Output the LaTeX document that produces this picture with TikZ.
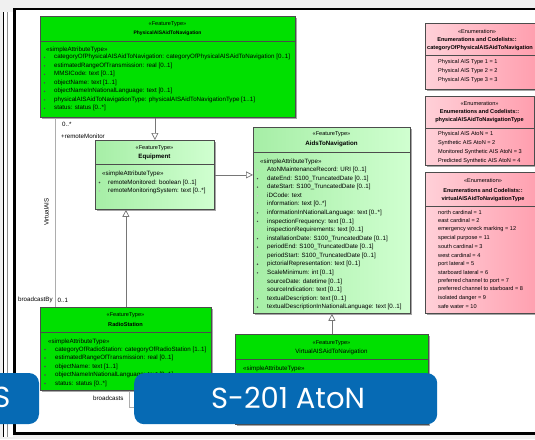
\documentclass[tikz,border=0pt]{standalone}
\usepackage{fontspec}
\setmainfont{Liberation Sans}
\newfontfamily\bannerfont{Poppins}
\usetikzlibrary{arrows.meta,shadows,positioning}

\definecolor{aisgreen}{RGB}{0,224,0}
\definecolor{paleL}{RGB}{166,238,166}
\definecolor{paleR}{RGB}{208,255,208}
\definecolor{pinkL}{RGB}{255,208,216}
\definecolor{pinkR}{RGB}{255,158,174}
\definecolor{bannerblue}{RGB}{6,106,180}
\definecolor{linegray}{RGB}{118,118,118}
\definecolor{pagegray}{RGB}{240,240,240}

\tikzset{
  umlbox/.style={draw=black!70, line width=0.8pt, anchor=north west, inner sep=0pt,
    drop shadow={shadow xshift=1.5pt, shadow yshift=-1.5pt, opacity=0.35, fill=black}},
  featbox/.style={umlbox, fill=aisgreen},
  basebox/.style={umlbox, left color=paleL, right color=paleR},
  enumbox/.style={umlbox, left color=pinkL, right color=pinkR},
  umltext/.style={font=\fontsize{6.2}{7}\selectfont, inner sep=0pt},
  umlattr/.style={umltext, anchor=west},
  umlstereo/.style={umltext, anchor=center, font=\fontsize{5.6}{6}\selectfont},
  umlname/.style={umltext, anchor=center, font=\fontsize{5.6}{6}\selectfont\bfseries},
  enumattr/.style={umltext, anchor=west, font=\fontsize{5.6}{6}\selectfont},
  umlsep/.style={draw=black!70, line width=0.8pt},
  gen/.style={draw=linegray, line width=0.7pt, -{Triangle[width=7pt,length=7pt,fill=white]}},
  assoc/.style={draw=linegray!60, line width=0.6pt},
  bannerbox/.style={fill=bannerblue, rounded corners=10pt}
}

\begin{document}
\begin{tikzpicture}[x=1pt,y=-1pt]
\useasboundingbox (0,0) rectangle (535,439);

% page, neighbour slide and frame
\fill[pagegray] (0,0) rectangle (535,439);
\fill[white] (4,12) rectangle (13,437);
\draw[line width=0.8pt] (3.5,12) -- (3.5,437);
\draw[black!45, line width=0.5pt] (7,12) -- (7,437);
\draw[fill=white, line width=2.4pt] (14.5,9) rectangle (560,433.5);

% classes
\node[featbox, minimum width=255pt, minimum height=101pt] (phys) at (40,16) {};
\draw[umlsep] (phys.west |- 0,41) -- (phys.east |- 0,41);
\node[umlstereo] at (167.5,24) {«FeatureType»};
\node[umlname, font=\fontsize{5}{6}\selectfont\bfseries] at (167.5,33) {PhysicalAISAidToNavigation};
\node[umlattr] at (46,50) {«simpleAttributeType»};
\foreach \t [count=\i from 0] in {
  {categoryOfPhysicalAISAidToNavigation: categoryOfPhysicalAISAidToNavigation [0..1]},
  {estimatedRangeOfTransmission: real [0..1]},
  {MMSICode: text [0..1]},
  {objectName: text [1..1]},
  {objectNameInNationalLanguage: text [0..1]},
  {physicalAISAidToNavigationType: physicalAISAidToNavigationType [1..1]},
  {status: status [0..*]}} {
  \fill[black!70] (44.5,{57.3+8.5*\i}) circle (0.8pt);
  \node[umlattr] at (54,{57.3+8.5*\i}) {\t};
}

\node[basebox, minimum width=119pt, minimum height=69pt] (equip) at (95,140) {};
\draw[umlsep] (equip.west |- 0,164) -- (equip.east |- 0,164);
\node[umlstereo] at (154.5,148) {«FeatureType»};
\node[umlname, font=\fontsize{6.2}{7}\selectfont\bfseries] at (154.5,157) {Equipment};
\node[umlattr] at (102,174) {«simpleAttributeType»};
\fill[black!70] (99.5,182.5) circle (0.8pt);
\fill[black!25] (99.5,191) circle (0.8pt);
\node[umlattr] at (108,182.5) {remoteMonitored: boolean [0..1]};
\node[umlattr] at (108,191) {remoteMonitoringSystem: text [0..*]};

\node[basebox, minimum width=157pt, minimum height=186pt] (aton) at (253,127) {};
\draw[umlsep] (aton.west |- 0,152) -- (aton.east |- 0,152);
\node[umlstereo] at (331.5,134.5) {«FeatureType»};
\node[umlname, font=\fontsize{6.2}{7}\selectfont\bfseries] at (331.5,143.5) {AidsToNavigation};
\node[umlattr] at (260,161.7) {«simpleAttributeType»};
\foreach \c/\t [count=\i from 0] in {
  black!20/{AtoNMaintenanceRecord: URI [0..1]},
  black!70/{dateEnd: S100\_TruncatedDate [0..1]},
  black!70/{dateStart: S100\_TruncatedDate [0..1]},
  black!20/{iDCode: text},
  black!20/{information: text [0..*]},
  black!70/{informationInNationalLanguage: text [0..*]},
  black!70/{inspectionFrequency: text [0..1]},
  black!20/{inspectionRequirements: text [0..1]},
  black!70/{installationDate: S100\_TruncatedDate [0..1]},
  black!70/{periodEnd: S100\_TruncatedDate [0..1]},
  black!20/{periodStart: S100\_TruncatedDate [0..1]},
  black!70/{pictorialRepresentation: text [0..1]},
  black!70/{ScaleMinimum: int [0..1]},
  black!20/{sourceDate: datetime [0..1]},
  black!20/{sourceIndication: text [0..1]},
  black!70/{textualDescription: text [0..1]},
  black!70/{textualDescriptionInNationalLanguage: text [0..1]}} {
  \fill[\c] (257.5,{170+8.57*\i}) circle (0.8pt);
  \node[umlattr] at (267,{170+8.57*\i}) {\t};
}

\node[featbox, minimum width=171pt, minimum height=83pt] (radio) at (40,307) {};
\draw[umlsep] (radio.west |- 0,332) -- (radio.east |- 0,332);
\node[umlstereo] at (125.5,315) {«FeatureType»};
\node[umlname] at (125.5,324) {RadioStation};
\node[umlattr] at (48,341.5) {«simpleAttributeType»};
\foreach \t [count=\i from 0] in {
  {categoryOfRadioStation: categoryOfRadioStation [1..1]},
  {estimatedRangeOfTransmission: real [0..1]},
  {objectName: text [1..1]},
  {objectNameInNationalLanguage: text [0..1]},
  {status: status [0..*]}} {
  \fill[black!70] (45,{349.5+8.5*\i}) circle (0.8pt);
  \node[umlattr] at (55,{349.5+8.5*\i}) {\t};
}

\node[featbox, minimum width=193pt, minimum height=90pt] (virtual) at (235,334) {};
\draw[umlsep] (virtual.west |- 0,359) -- (virtual.east |- 0,359);
\node[umlstereo] at (331.5,343) {«FeatureType»};
\node[umltext] at (331.5,351.5) {VirtualAISAidToNavigation};
\node[umlattr] at (243,369) {«simpleAttributeType»};

% enumerations
\node[enumbox, minimum width=112pt, minimum height=66pt] (catenum) at (425,23) {};
\draw[umlsep] (catenum.west |- 0,55) -- (catenum.east |- 0,55);
\node[umlstereo] at (477,31.5) {«Enumeration»};
\node[umlname] at (477,39.7) {Enumerations and Codelists::};
\node[umlattr, font=\fontsize{5.6}{6}\selectfont\bfseries] at (427,47.7) {categoryOfPhysicalAISAidToNavigation};
\foreach \t [count=\i from 0] in {{Physical AIS Type 1 = 1},{Physical AIS Type 2 = 2},{Physical AIS Type 3 = 3}}
  \node[enumattr] at (438,{62.3+8.8*\i}) {\t};

\node[enumbox, minimum width=109pt, minimum height=69pt] (physenum) at (425,96) {};
\draw[umlsep] (physenum.west |- 0,128) -- (physenum.east |- 0,128);
\node[umlstereo] at (479.5,103.3) {«Enumeration»};
\node[umlname] at (479.5,111.7) {Enumerations and Codelists::};
\node[umlname] at (479.5,120) {physicalAISAidToNavigationType};
\foreach \t [count=\i from 0] in {{Physical AIS AtoN = 1},{Synthetic AIS AtoN = 2},
    {Monitored Synthetic AIS AtoN = 3},{Predicted Synthetic AIS AtoN = 4}}
  \node[enumattr] at (438,{134.3+8.8*\i}) {\t};

\node[enumbox, minimum width=116pt, minimum height=141pt] (virtenum) at (425,172) {};
\draw[umlsep] (virtenum.west |- 0,206) -- (virtenum.east |- 0,206);
\node[umlstereo] at (483,180.7) {«Enumeration»};
\node[umlname] at (483,190) {Enumerations and Codelists::};
\node[umlname] at (483,198.7) {virtualAISAidToNavigationType};
\foreach \t [count=\i from 0] in {{north cardinal = 1},{east cardinal = 2},
    {emergency wreck marking = 12},{special purpose = 11},{south cardinal = 3},
    {west cardinal = 4},{port lateral = 5},{starboard lateral = 6},
    {preferred channel to port = 7},{preferred channel to starboard = 8},
    {isolated danger = 9},{safe water = 10}}
  \node[enumattr] at (438,{212+8.6*\i}) {\t};

% connectors
\draw[gen] (equip.north |- phys.south) -- (equip.north);
\draw[gen] (radio.north) -- (radio.north |- equip.south);
\draw[gen] (equip.east) -- (equip.east -| aton.west);
\draw[gen] (virtual.north) -- (virtual.north |- aton.south);
\draw[assoc] ([xshift=15pt]phys.south west) -- ([xshift=15pt]radio.north west);
\draw[assoc] ([xshift=89pt]radio.south west) |- ([yshift=-28pt]virtual.west);
\node[umlattr] at (62,124.5) {0..*};
\node[umlattr] at (61,136) {+remoteMonitor};
\node[umltext, rotate=90] at (46.5,212) {VirtualAIS};
\node[umlattr] at (18,300) {broadcastBy};
\node[umlattr] at (57.5,300) {0..1};
\node[umlattr] at (93,398) {broadcasts};

% title banners
\fill[bannerblue, rounded corners=10pt] (-30,373) rectangle (39,424);
\node[text=white, font=\bannerfont\fontsize{29}{30}\selectfont, anchor=east] at (14,397) {S};
\node[bannerbox, minimum width=303pt, minimum height=51pt, anchor=north west] (title) at (134,373) {};
\node[text=white, font=\bannerfont\fontsize{29}{30}\selectfont] at (288,397.5) {S-201 AtoN};
\end{tikzpicture}
\end{document}
